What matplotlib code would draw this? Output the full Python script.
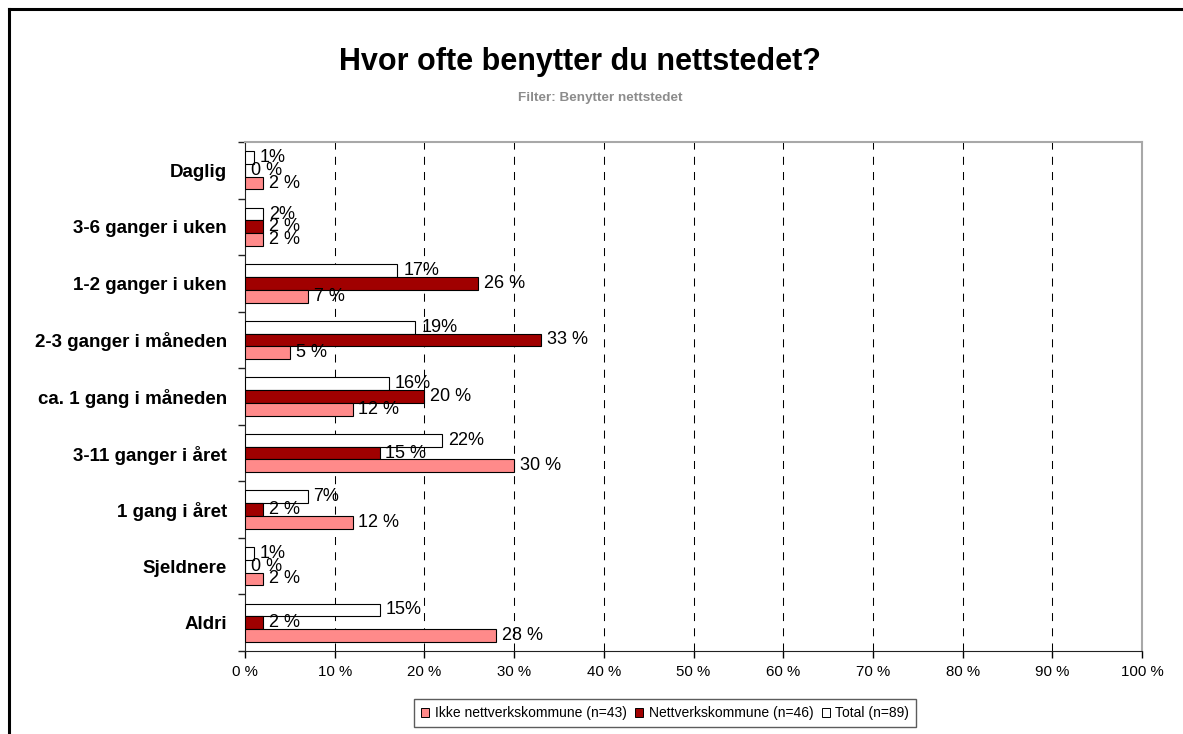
import matplotlib
matplotlib.use("Agg")
import matplotlib.pyplot as plt
from matplotlib.patches import Patch
from matplotlib.lines import Line2D
import numpy as np

plt.rcParams["font.family"] = ["Liberation Sans", "DejaVu Sans"]

categories = ["Daglig", "3-6 ganger i uken", "1-2 ganger i uken", "2-3 ganger i måneden",
              "ca. 1 gang i måneden", "3-11 ganger i året", "1 gang i året", "Sjeldnere", "Aldri"]
total = [1, 2, 17, 19, 16, 22, 7, 1, 15]
nettverk = [0, 2, 26, 33, 20, 15, 2, 0, 2]
ikke_nettverk = [2, 2, 7, 5, 12, 30, 12, 2, 28]
series_names = ["Ikke nettverkskommune (n=43)", "Nettverkskommune (n=46)", "Total (n=89)"]
xticks = list(range(0, 101, 10))

W, H = 1183, 734
fig = plt.figure(figsize=(W / 100, H / 100), dpi=100)
fig.patch.set_facecolor("white")

ax = fig.add_axes([245 / W, 1 - 651 / H, (1142 - 245) / W, (651 - 142) / H])

y = np.arange(len(categories))
bh = 0.226
c_ikke = "#FF8A8A"
c_nett = "#A00000"
ax.barh(y - bh, total, height=bh, color="white", edgecolor="black", linewidth=0.8, zorder=3)
ax.barh(y, nettverk, height=bh, color=c_nett, edgecolor="black", linewidth=0.8, zorder=3)
ax.barh(y + bh, ikke_nettverk, height=bh, color=c_ikke, edgecolor="black", linewidth=0.8, zorder=3)

fs = 13
off = 0.65
for i in range(len(categories)):
    ax.text(total[i] + off, y[i] - bh, f"{total[i]}%", va="center", ha="left", fontsize=fs, zorder=4)
    ax.text(nettverk[i] + off, y[i], f"{nettverk[i]} %", va="center", ha="left", fontsize=fs, zorder=4)
    ax.text(ikke_nettverk[i] + off, y[i] + bh, f"{ikke_nettverk[i]} %", va="center", ha="left", fontsize=fs, zorder=4)

ax.set_xlim(0, 100)
ax.set_ylim(len(categories) - 0.5, -0.5)
ax.set_xticks(xticks)
ax.set_xticklabels([f"{t} %" for t in xticks], fontsize=10.8)
ax.set_yticks(y)
ax.set_yticklabels(categories, fontsize=13.5, fontweight="bold")
ax.tick_params(axis="y", length=0, pad=13)
ax.set_yticks(np.arange(-0.5, len(categories), 1), minor=True)
ax.tick_params(axis="y", which="minor", length=5, width=1, direction="out", color="#222222")
ax.tick_params(axis="x", length=5, width=1, direction="out", pad=5, color="black")
for xv in xticks[1:-1]:
    ax.axvline(xv, color="black", linestyle=(0, (7.7, 6.9)), linewidth=0.75, zorder=1)
for s in ["top", "right"]:
    ax.spines[s].set_color("#a8a8a8")
    ax.spines[s].set_linewidth(1.5)
ax.spines["left"].set_color("#222222")
ax.spines["bottom"].set_color("#222222")

fig.text(580 / W, 1 - 62 / H, "Hvor ofte benytter du nettstedet?", ha="center", va="center",
         fontsize=22, fontweight="bold")
fig.text(600 / W, 1 - 98 / H, "Filter: Benytter nettstedet", ha="center", va="center",
         fontsize=9.7, fontweight="bold", color="#8c8c8c")

handles = [Patch(facecolor=c_ikke, edgecolor="black", linewidth=0.7),
           Patch(facecolor=c_nett, edgecolor="black", linewidth=0.7),
           Patch(facecolor="white", edgecolor="black", linewidth=0.7)]
leg = fig.legend(handles, series_names, loc="center", bbox_to_anchor=(665 / W, 1 - 713 / H), ncol=3,
                 fontsize=10, frameon=True, fancybox=False, handlelength=0.6, handleheight=0.6,
                 handletextpad=0.4, columnspacing=0.6, borderpad=0.5, borderaxespad=0)
leg.get_frame().set_edgecolor("#333333")
leg.get_frame().set_linewidth(1.0)

lw = 2.2
fig.add_artist(Line2D([8.5 / W, 8.5 / W], [0, 1 - 8.5 / H], color="black", linewidth=lw, transform=fig.transFigure))
fig.add_artist(Line2D([8.5 / W, 1], [1 - 8.5 / H, 1 - 8.5 / H], color="black", linewidth=lw, transform=fig.transFigure))

fig.savefig("out.png", dpi=100, facecolor="white")
